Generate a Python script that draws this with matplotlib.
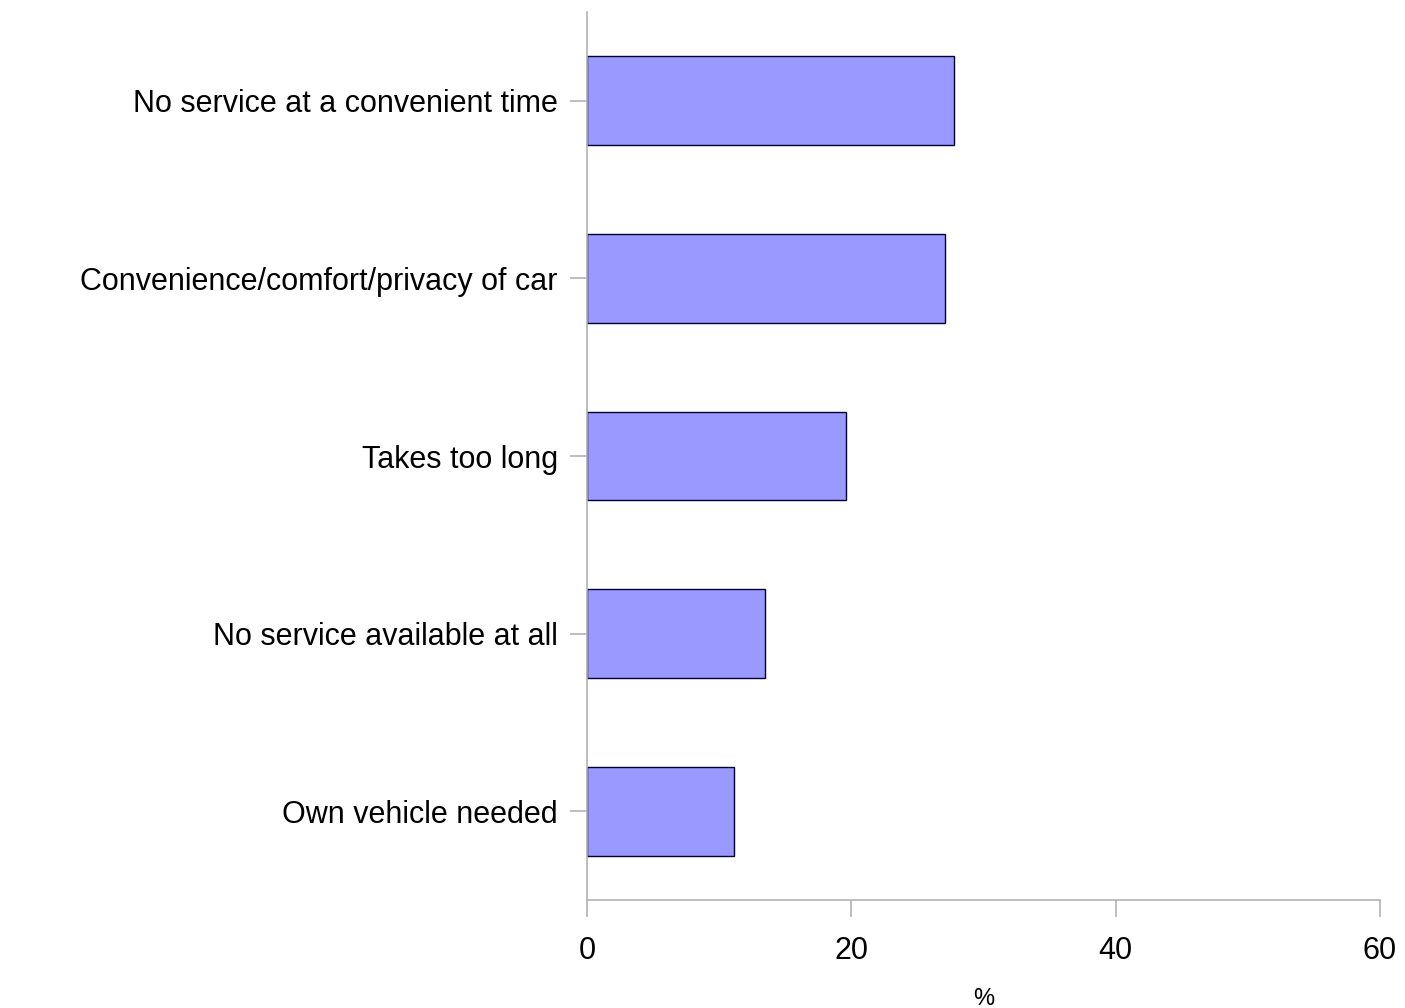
import matplotlib.pyplot as plt

reasons = [
    "No service at a convenient time",
    "Convenience/comfort/privacy of car",
    "Takes too long",
    "No service available at all",
    "Own vehicle needed",
]
percent = [27.8, 27.1, 19.6, 13.5, 11.1]
x_ticks = [0, 20, 40, 60]

plt.rcParams["font.family"] = ["Liberation Sans", "DejaVu Sans"]

fig = plt.figure(figsize=(14.05, 10.08), dpi=100)
ax = fig.add_axes([0.4178, 0.1071, 0.5644, 0.881])

pos = list(range(len(reasons)))
ax.barh(pos, percent, height=0.5, color="#9999ff", edgecolor="#000033", linewidth=1.0)

ax.set_ylim(len(reasons) - 0.5, -0.5)
ax.set_xlim(0, 60)
ax.set_yticks(pos)
ax.set_yticklabels(reasons, fontsize=22)
ax.set_xticks(x_ticks)
ax.set_xticklabels([str(t) for t in x_ticks], fontsize=22)
ax.set_xlabel("%", fontsize=17, labelpad=16)

for side in ["top", "right"]:
    ax.spines[side].set_visible(False)
for side in ["left", "bottom"]:
    ax.spines[side].set_color("#b3b3b3")
    ax.spines[side].set_linewidth(1.2)
ax.tick_params(axis="y", length=12, width=1.2, color="#b3b3b3", pad=9)
ax.tick_params(axis="x", length=12, width=1.2, color="#b3b3b3", pad=14)

fig.savefig("out.png", dpi=100)
